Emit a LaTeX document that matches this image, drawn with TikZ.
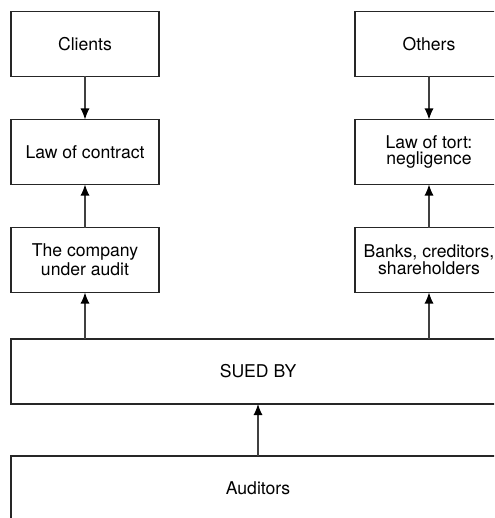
\documentclass[tikz,border=0pt]{standalone}
\usepackage{fontspec}
\setmainfont{TeX Gyre Heros}
\usetikzlibrary{arrows.meta}
\tikzset{
  lawbox/.style={draw=black!85, line width=0.7pt, minimum width=74pt, minimum height=32.5pt,
    inner sep=0pt, outer sep=0pt, align=center, font=\fontsize{8.8}{8.3}\selectfont},
  widebox/.style={lawbox, minimum width=247pt},
  up/.style={draw=black!75, line width=0.55pt, -{Latex[length=5.5pt,width=4.5pt,black]}}
}

\begin{document}
\begin{tikzpicture}[x=0.5pt, y=-0.5pt]
      \useasboundingbox (0,0) rectangle (494,518);
      \clip (0,0) rectangle (494,518);

      \coordinate (Cl) at (85, 44);
      \coordinate (Co) at (85, 152);
      \coordinate (Cu) at (85, 260);
      \coordinate (Ot) at (429, 44);
      \coordinate (To) at (429, 152);
      \coordinate (Ba) at (429, 260);
      \coordinate (Su) at (258, 371.5);
      \coordinate (Au) at (258, 488.5);

      \node[lawbox] (Clients) at (Cl) {Clients};
      \node[lawbox] (Contract) at (Co) {Law of contract};
      \node[lawbox] (Company) at (Cu) {The company\\under audit};

      \node[lawbox] (Others) at (Ot) {Others};
      \node[lawbox] (Tort) at (To) {Law of tort:\\negligence};
      \node[lawbox] (Banks) at (Ba) {Banks, creditors,\\shareholders};

      \node[widebox] (Sued) at (Su) {SUED BY};
      \node[widebox] (Auditors) at (Au) {Auditors};

      \draw[up] (Clients) -- (Contract);
      \draw[up] (Company) -- (Contract);
      \draw[up] (Others) -- (Tort);
      \draw[up] (Banks) -- (Tort);

      \draw[up] (Sued.north -| Company) -- (Company);
      \draw[up] (Sued.north -| Banks) -- (Banks);
      \draw[up] (Auditors) -- (Sued);
    \end{tikzpicture}
\end{document}
